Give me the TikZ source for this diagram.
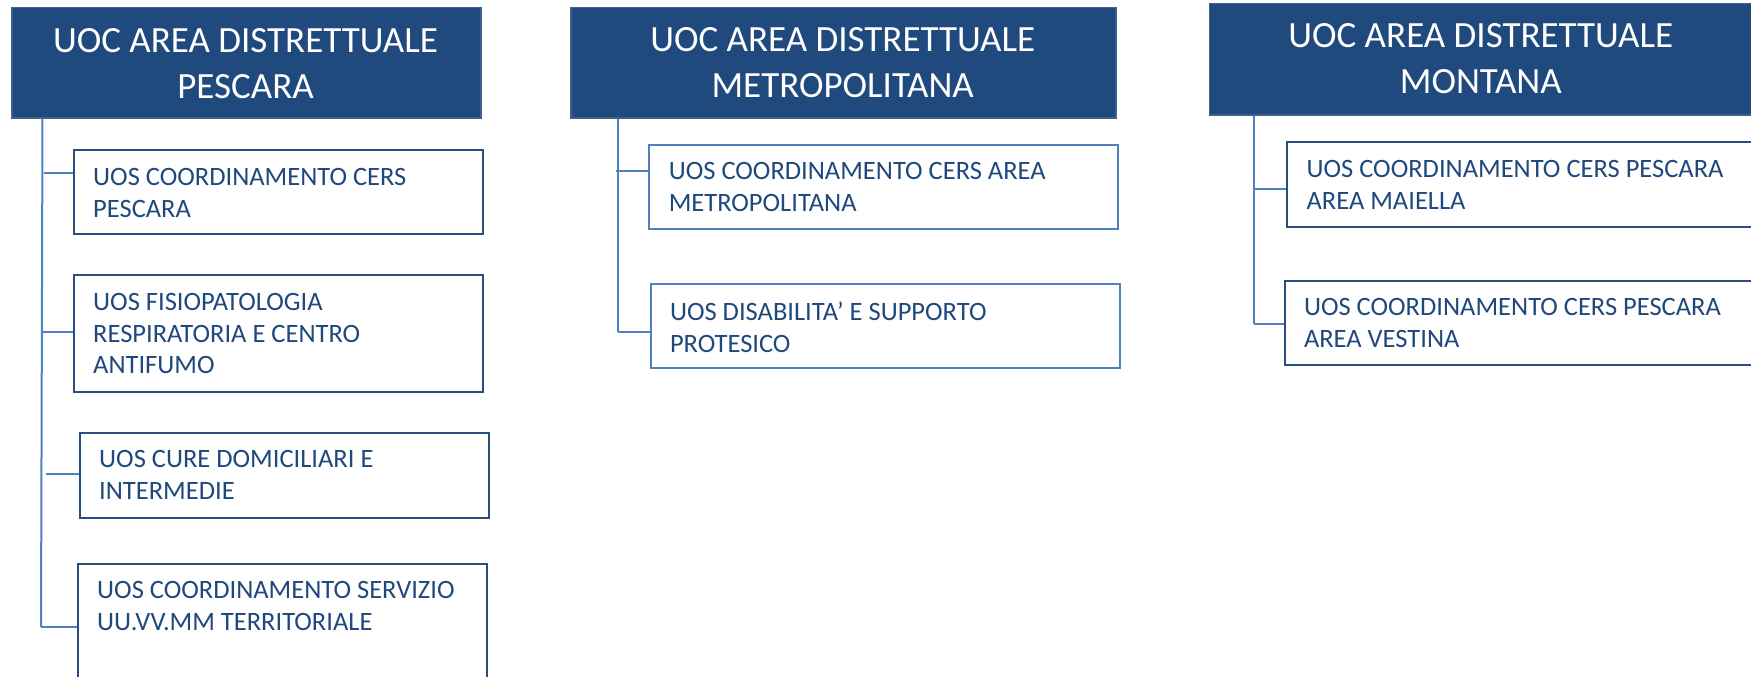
\documentclass[tikz,border=0pt]{standalone}
\usepackage{fontspec}
\setmainfont{Carlito}
\usetikzlibrary{calc}
\definecolor{hdrblue}{RGB}{32,73,125}
\definecolor{hdredge}{RGB}{62,96,140}
\definecolor{darkedge}{RGB}{40,78,128}
\definecolor{lightedge}{RGB}{80,128,190}
\definecolor{connblue}{RGB}{79,129,189}
\definecolor{txtblue}{RGB}{31,73,125}
\begin{document}
\begin{tikzpicture}[x=1pt,y=-1pt,
 hdr/.style={draw=hdredge, fill=hdrblue, line width=1.5pt, anchor=north west, inner sep=0pt},
 hdrtext/.style={text=white, align=center, inner sep=0pt, font=\fontsize{37}{45.5}\selectfont},
 box/.style={draw=darkedge, line width=2pt, fill=white, anchor=north west, inner sep=0pt, minimum width=409pt},
 lbox/.style={box, draw=lightedge, minimum width=469pt},
 boxtext/.style={text=txtblue, align=left, anchor=north west, inner sep=0pt, font=\fontsize{26.5}{31.7}\selectfont},
 conn/.style={draw=connblue, line width=2pt}]
\path[use as bounding box] (0,0) rectangle (1751,677);
\clip (0,0) rectangle (1751,677);

% headers
\node[hdr, minimum width=469pt, minimum height=110pt] (h1) at (11,7) {};
\node[hdr, minimum width=545pt, minimum height=110pt] (h2) at (570,7) {};
\node[hdr, minimum width=600pt, minimum height=111pt] (h3) at (1208.5,3) {};
\node[hdrtext] (h1t) at (245.5,63.5) {UOC AREA DISTRETTUALE\\PESCARA};
\node[hdrtext] (h2t) at (842.7,62.5) {UOC AREA DISTRETTUALE\\METROPOLITANA};
\node[hdrtext] (h3t) at (1480.8,58.8) {UOC AREA DISTRETTUALE\\MONTANA};

% boxes column 1
\node[box, minimum height=84pt] (b1) at (73,149) {};
\node[box, minimum height=117pt] (b2) at (73,274) {};
\node[box, minimum height=85pt] (b3) at (79,432) {};
\node[box, minimum height=160pt] (b4) at (77,563) {};
% boxes column 2
\node[lbox, minimum height=84pt] (m1) at (648,144) {};
\node[lbox, minimum height=84pt] (m2) at (649.5,283) {};
% boxes column 3
\node[box, minimum width=520pt, minimum height=85pt] (n1) at (1286.3,141) {};
\node[box, minimum width=520pt, minimum height=84pt] (n2) at (1283.8,280) {};

% connectors column 1
\coordinate (c1b) at (41,627);
\draw[conn] ([xshift=31.5pt]h1.south west) -- (c1b);
\coordinate (s11) at (44,173);
\coordinate (s12) at (43,332);
\coordinate (s13) at (46,474);
\draw[conn] (s11) -- (s11 -| b1.west);
\draw[conn] (s12) -- (s12 -| b2.west);
\draw[conn] (s13) -- (s13 -| b3.west);
\draw[conn] (c1b) -- (c1b -| b4.west);
% connectors column 2
\coordinate (c2b) at (617.7,332);
\draw[conn] ([xshift=47.7pt]h2.south west) -- (c2b);
\coordinate (s21) at (616,171);
\draw[conn] (s21) -- (s21 -| m1.west);
\draw[conn] (c2b) -- (c2b -| m2.west);
% connectors column 3
\coordinate (c3b) at (1253.6,324);
\draw[conn] ([xshift=45.1pt]h3.south west) -- (c3b);
\coordinate (s31) at (1253.6,189);
\draw[conn] (s31) -- (s31 -| n1.west);
\draw[conn] (c3b) -- (c3b -| n2.west);

% texts
\node[boxtext] (b1t) at (93,168) {UOS COORDINAMENTO CERS\\PESCARA};
\node[boxtext] (b2t) at (93,293) {UOS FISIOPATOLOGIA\\RESPIRATORIA E CENTRO\\ANTIFUMO};
\node[boxtext] (b3t) at (99,450) {UOS CURE DOMICILIARI E\\INTERMEDIE};
\node[boxtext] (b4t) at (97,581.5) {UOS COORDINAMENTO SERVIZIO\\UU.VV.MM TERRITORIALE};
\node[boxtext] (m1t) at (668.6,162.5) {UOS COORDINAMENTO CERS AREA\\METROPOLITANA};
\node[boxtext] (m2t) at (669.8,301.5) {UOS DISABILITA’ E SUPPORTO\\PROTESICO};
\node[boxtext] (n1t) at (1306.4,160) {UOS COORDINAMENTO CERS PESCARA\\AREA MAIELLA};
\node[boxtext] (n2t) at (1303.8,298) {UOS COORDINAMENTO CERS PESCARA\\AREA VESTINA};
\end{tikzpicture}
\end{document}
